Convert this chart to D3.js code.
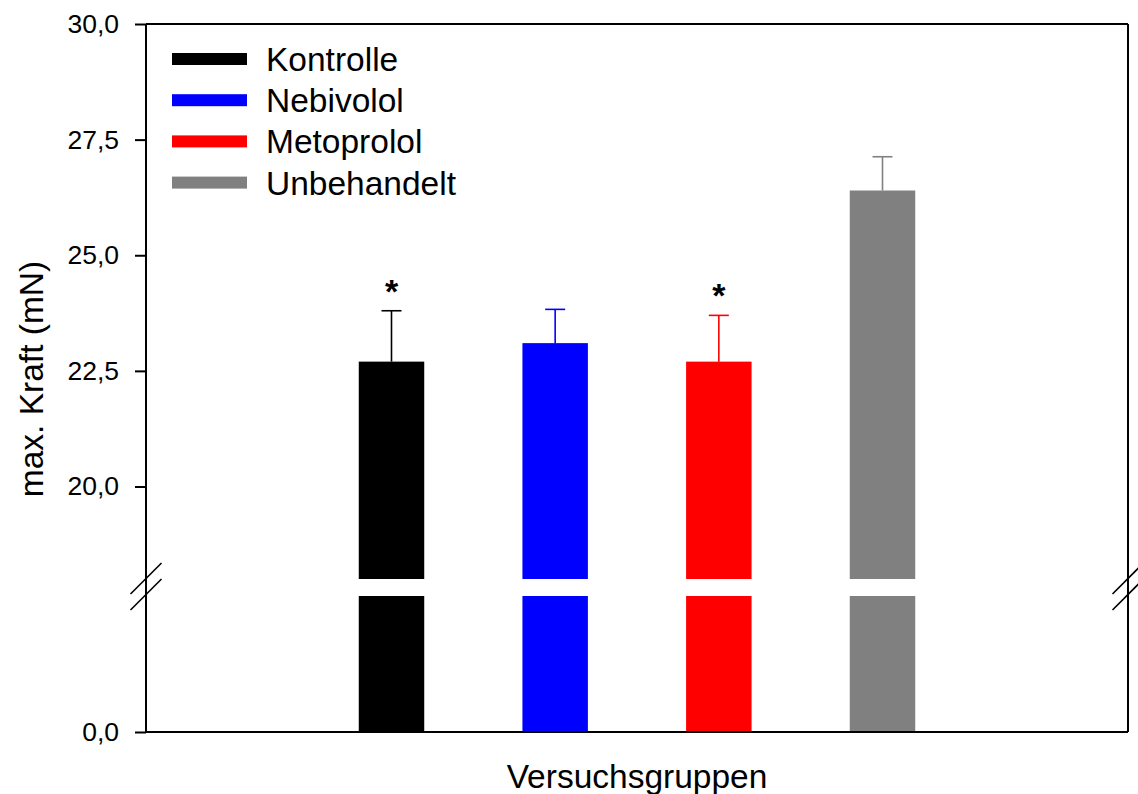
<!DOCTYPE html>
<html>
<head>
<meta charset="utf-8">
<script src="https://cdn.jsdelivr.net/npm/d3@7"></script>
<style>
  body { margin: 0; background: #fff; }
  text { font-family: Arial, "Liberation Sans", sans-serif; fill: #000; }
</style>
</head>
<body>
<div id="chart"></div>
<script>
// Data
const groups = ["Kontrolle", "Nebivolol", "Metoprolol", "Unbehandelt"];
const means = [22.7, 23.1, 22.7, 26.4];
const errors = [1.1, 0.73, 1.0, 0.73];
const significant = [true, false, true, false];
const colors = ["#000000", "#0000ff", "#ff0000", "#808080"];
const upperTicks = [20, 22.5, 25, 27.5, 30];
const lowerTicks = [0];

// Axis break: lower segment 0..breakLow, upper segment breakHigh..30
const breakLow = 2.95;
const breakHigh = 18;

const W = 1138, H = 794;
const plot = { left: 146, right: 1128, top: 24, bottom: 732 };
const gapTop = 579, gapBottom = 596;

const svg = d3.select("#chart")
    .append("svg")
    .attr("width", W)
    .attr("height", H);

// x: six slots across the plot, groups sit in slots 1..4
const x = d3.scaleLinear()
    .domain([0, 6])
    .range([plot.left, plot.right]);
const barWidth = (x(1) - x(0)) * 0.4;
const cx = i => x(i + 1.5);

// two y scales, one per segment
const yUp = d3.scaleLinear().domain([breakHigh, 30]).range([gapTop, plot.top]);
const yLow = d3.scaleLinear().domain([0, breakLow]).range([plot.bottom, gapBottom]);

const fmt = d3.formatLocale({ decimal: ",", thousands: ".", grouping: [3], currency: ["", "€"] }).format(".1f");

// bars, upper part
svg.append("g")
    .selectAll("rect")
    .data(means)
    .enter()
    .append("rect")
    .attr("x", (d, i) => cx(i) - barWidth / 2)
    .attr("y", d => yUp(d))
    .attr("width", barWidth)
    .attr("height", d => yUp(breakHigh) - yUp(d))
    .attr("fill", (d, i) => colors[i]);

// bars, lower part (under the break)
svg.append("g")
    .selectAll("rect")
    .data(means)
    .enter()
    .append("rect")
    .attr("x", (d, i) => cx(i) - barWidth / 2)
    .attr("y", yLow(breakLow))
    .attr("width", barWidth)
    .attr("height", yLow(0) - yLow(breakLow))
    .attr("fill", (d, i) => colors[i]);

// error bars (upper only)
const err = svg.append("g")
    .selectAll("g")
    .data(means)
    .enter()
    .append("g")
    .attr("stroke", (d, i) => colors[i])
    .attr("stroke-width", 1.6);
err.append("line")
    .attr("x1", (d, i) => cx(i))
    .attr("x2", (d, i) => cx(i))
    .attr("y1", d => yUp(d))
    .attr("y2", (d, i) => yUp(d + errors[i]));
err.append("line")
    .attr("x1", (d, i) => cx(i) - 10)
    .attr("x2", (d, i) => cx(i) + 10)
    .attr("y1", (d, i) => yUp(d + errors[i]))
    .attr("y2", (d, i) => yUp(d + errors[i]));

// significance stars
const stars = svg.append("g");
means.forEach((d, i) => {
  if (!significant[i]) return;
  stars.append("text")
      .attr("x", cx(i))
      .attr("y", yUp(d + errors[i]) - 8)
      .attr("text-anchor", "middle")
      .style("font-size", "34px")
      .style("font-weight", "bold")
      .text("*");
});

// frame lines
const frame = svg.append("g").attr("stroke", "#000").attr("stroke-width", 2).attr("fill", "none");
frame.append("line").attr("x1", plot.left).attr("x2", plot.right).attr("y1", plot.top).attr("y2", plot.top);
frame.append("line").attr("x1", plot.left).attr("x2", plot.right).attr("y1", plot.bottom).attr("y2", plot.bottom);
frame.append("line").attr("x1", plot.right).attr("x2", plot.right).attr("y1", plot.top).attr("y2", plot.bottom);
frame.append("line").attr("x1", plot.left).attr("x2", plot.left).attr("y1", plot.top).attr("y2", plot.bottom);

// y axis ticks and labels, both segments
const axUp = svg.append("g")
    .attr("transform", `translate(${plot.left},0)`)
    .call(d3.axisLeft(yUp).tickValues(upperTicks).tickFormat(fmt).tickSize(11).tickPadding(16));
const axLow = svg.append("g")
    .attr("transform", `translate(${plot.left},0)`)
    .call(d3.axisLeft(yLow).tickValues(lowerTicks).tickFormat(fmt).tickSize(11).tickPadding(16));
[axUp, axLow].forEach(ax => {
  ax.select(".domain").remove();
  ax.selectAll(".tick line").attr("stroke", "#000").attr("stroke-width", 2);
  ax.selectAll(".tick text")
      .attr("fill", "#000")
      .style("font-size", "26.5px")
      .style("font-family", "Arial, 'Liberation Sans', sans-serif");
});

// break marks on both side axes
const slash = svg.append("g").attr("stroke", "#000").attr("stroke-width", 1.6);
[plot.left, plot.right].forEach(ax => {
  [578.5, 594.5].forEach(cy => {
    slash.append("line")
        .attr("x1", ax - 15.5).attr("y1", cy + 15.5)
        .attr("x2", ax + 15.5).attr("y2", cy - 15.5);
  });
});

// legend
const legend = svg.append("g")
    .selectAll("g")
    .data(groups)
    .enter()
    .append("g")
    .attr("transform", (d, i) => `translate(172,${59 + i * 41.2})`);
legend.append("rect")
    .attr("x", 0)
    .attr("y", -6)
    .attr("width", 75)
    .attr("height", 12)
    .attr("fill", (d, i) => colors[i]);
legend.append("text")
    .attr("x", 94)
    .attr("y", 12)
    .style("font-size", "33.5px")
    .text(d => d);

// axis titles
svg.append("text")
    .attr("transform", "translate(43,379) rotate(-90)")
    .attr("text-anchor", "middle")
    .style("font-size", "33.5px")
    .text("max. Kraft (mN)");
svg.append("text")
    .attr("x", (plot.left + plot.right) / 2)
    .attr("y", 788)
    .attr("text-anchor", "middle")
    .style("font-size", "33.5px")
    .text("Versuchsgruppen");
</script>
</body>
</html>
